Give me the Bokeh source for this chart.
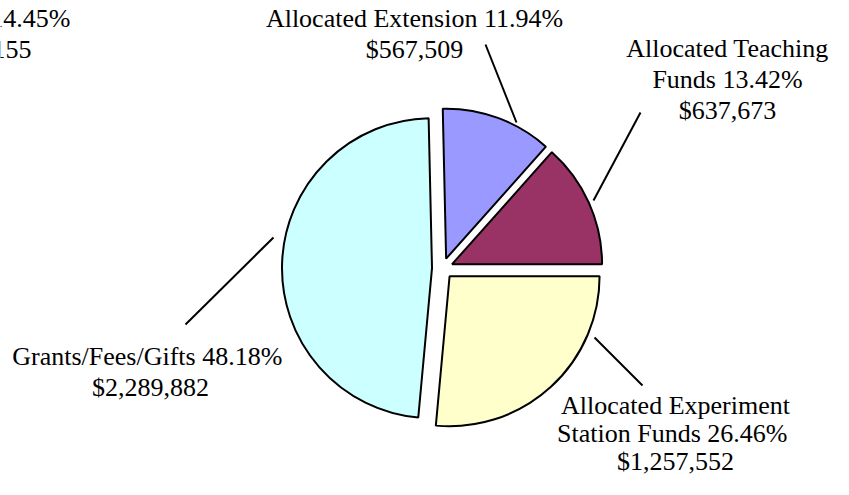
import math
from bokeh.plotting import figure
from bokeh.models import Range1d, ColumnDataSource
from bokeh.core.properties import value
from bokeh.embed import file_html
from bokeh.resources import INLINE

# ---- data ----
categories = ["Allocated Teaching Funds", "Allocated Extension",
              "Grants/Fees/Gifts", "Allocated Experiment Station Funds"]
percents = [13.42, 11.94, 48.18, 26.46]
amounts = [637673, 567509, 2289882, 1257552]
colors = ["#993366", "#9999FF", "#CCFFFF", "#FFFFCC"]
# how each category name is broken over label lines
name_lines = [["Allocated Teaching", "Funds"], ["Allocated Extension"],
              ["Grants/Fees/Gifts "], ["Allocated Experiment", "Station Funds "]]
# stray, partly cut-off label at the top-left edge
stray_lines = ["14.45%", "155"]

# ---- layout (picture pixel coordinates) ----
PAGE_W, PAGE_H, MARGIN = 849, 495, 8
W, H = PAGE_W - 2 * MARGIN, PAGE_H - 2 * MARGIN
CX, CY = 442, 268          # pie centre (px)
R = 150                    # radius (px)
EXPLODE = 10.5             # explode distance (px)
FONT = value("Liberation Serif")
FSIZE = "26px"
label_anchor = [(727, 48), (414, 18), (150, 356), (675, 405)]   # centre x, first line
label_step = [31, 31, 31, 28]
leader = [((593, 200), (640, 112)), ((516, 122), (485, 44)),
          ((273, 237), (185, 324)), ((594, 337), (642, 385))]
stray_anchor = [(70, 18), (31, 49)]


def fy(y):
    return PAGE_H - y


p = figure(width=W, height=H, x_range=Range1d(0, W),
           y_range=Range1d(PAGE_H - H, PAGE_H),
           output_backend="svg", toolbar_location=None, min_border=0,
           x_axis_type=None, y_axis_type=None)
p.grid.visible = False
p.outline_line_color = None
p.background_fill_color = "white"
p.border_fill_color = "white"

# ---- wedges ----
total = sum(amounts)
starts, ends, xs, ys = [], [], [], []
acc = 0.0
for a in amounts:
    s = acc / total * 2 * math.pi
    acc += a
    e = acc / total * 2 * math.pi
    mid = (s + e) / 2
    starts.append(s)
    ends.append(e)
    xs.append(CX + EXPLODE * math.cos(mid))
    ys.append(fy(CY) + EXPLODE * math.sin(mid))

src = ColumnDataSource(dict(x=xs, y=ys, start=starts, end=ends, color=colors,
                            cat=categories))
p.wedge(x="x", y="y", radius=R, start_angle="start", end_angle="end",
        direction="anticlock", fill_color="color", line_color="black",
        line_width=2, source=src)

# ---- leader lines ----
for (x0, y0), (x1, y1) in leader:
    p.line([x0, x1], [fy(y0), fy(y1)], line_color="black", line_width=2)

# ---- labels ----
tx, ty, tt = [], [], []
for i, names in enumerate(name_lines):
    lines = list(names[:-1]) + [f"{names[-1]} {percents[i]:.2f}%", f"${amounts[i]:,}"]
    ax, ay = label_anchor[i]
    for j, ln in enumerate(lines):
        tx.append(ax)
        ty.append(fy(ay + j * label_step[i]))
        tt.append(ln)
p.text(x=tx, y=ty, text=tt, text_align="center", text_baseline="alphabetic",
       text_font=FONT, text_font_size=FSIZE, text_color="black")

p.text(x=[a[0] for a in stray_anchor], y=[fy(a[1]) for a in stray_anchor],
       text=stray_lines, text_align="right", text_baseline="alphabetic",
       text_font=FONT, text_font_size=FSIZE, text_color="black")

open("out.html", "w").write(file_html(p, INLINE))
